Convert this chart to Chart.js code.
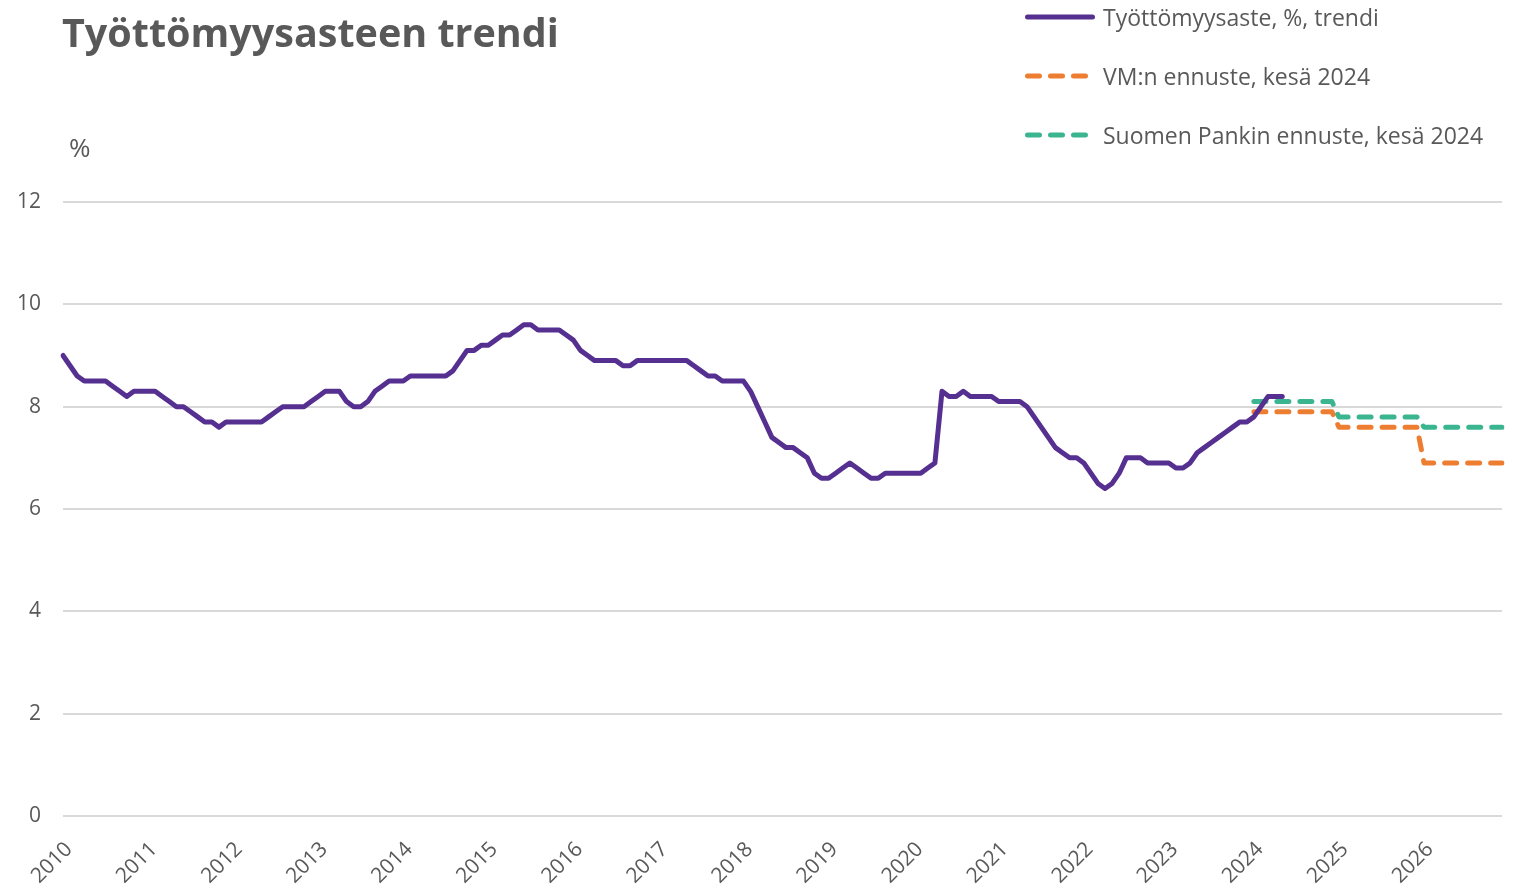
<!DOCTYPE html>
<html>
<head>
<meta charset="utf-8">
<script src="https://cdn.jsdelivr.net/npm/chart.js@4.4.1/dist/chart.umd.min.js"></script>
<style>
  body { margin: 0; background: #fff; font-family: 'Open Sans', sans-serif; color: #595959; }
  #wrap { position: relative; width: 1516px; height: 885px; }
  #title { position: absolute; left: 62px; top: 3px; font-size: 39.5px; font-weight: 700; line-height: 58px; }
  #unit { position: absolute; left: 69px; top: 131px; font-size: 26px; line-height: 32px; }
  .leg { position: absolute; left: 1022px; height: 30px; line-height: 30px; font-size: 23px; white-space: nowrap; }
  .leg svg { vertical-align: top; }
  canvas { position: absolute; left: 0; top: 0; }
</style>
</head>
<body>
<div id="wrap">
  <canvas id="trendChart" width="1516" height="885"></canvas>
  <div id="title">Työttömyysasteen trendi</div>
  <div id="unit">%</div>
  <div class="leg" style="top:2px"><svg width="81" height="30"><line x1="5.5" y1="15" x2="70.5" y2="15" stroke="#553090" stroke-width="5" stroke-linecap="round"/></svg><span>Työttömyysaste, %, trendi</span></div>
  <div class="leg" style="top:61px"><svg width="81" height="30"><line x1="5.5" y1="15" x2="63.5" y2="15" stroke="#ED7D31" stroke-width="5" stroke-linecap="round" stroke-dasharray="12 11"/></svg><span>VM:n ennuste, kesä 2024</span></div>
  <div class="leg" style="top:120px"><svg width="81" height="30"><line x1="5.5" y1="15" x2="63.5" y2="15" stroke="#3BB58F" stroke-width="5" stroke-linecap="round" stroke-dasharray="12 11"/></svg><span>Suomen Pankin ennuste, kesä 2024</span></div>
</div>
<script>
// Years on the axis, months in between
const years = [2010, 2011, 2012, 2013, 2014, 2015, 2016, 2017, 2018,
               2019, 2020, 2021, 2022, 2023, 2024, 2025, 2026];
const months = [];
years.forEach((y) => {
  for (let m = 1; m <= 12; m++) months.push(y + '-' + String(m).padStart(2, '0'));
});

// Unemployment rate trend, %, monthly from 2010-01
const trend = [
  9.0, 8.8, 8.6, 8.5, 8.5, 8.5, 8.5, 8.4, 8.3, 8.2, 8.3, 8.3, // 2010
  8.3, 8.3, 8.2, 8.1, 8.0, 8.0, 7.9, 7.8, 7.7, 7.7, 7.6, 7.7, // 2011
  7.7, 7.7, 7.7, 7.7, 7.7, 7.8, 7.9, 8.0, 8.0, 8.0, 8.0, 8.1, // 2012
  8.2, 8.3, 8.3, 8.3, 8.1, 8.0, 8.0, 8.1, 8.3, 8.4, 8.5, 8.5, // 2013
  8.5, 8.6, 8.6, 8.6, 8.6, 8.6, 8.6, 8.7, 8.9, 9.1, 9.1, 9.2, // 2014
  9.2, 9.3, 9.4, 9.4, 9.5, 9.6, 9.6, 9.5, 9.5, 9.5, 9.5, 9.4, // 2015
  9.3, 9.1, 9.0, 8.9, 8.9, 8.9, 8.9, 8.8, 8.8, 8.9, 8.9, 8.9, // 2016
  8.9, 8.9, 8.9, 8.9, 8.9, 8.8, 8.7, 8.6, 8.6, 8.5, 8.5, 8.5, // 2017
  8.5, 8.3, 8.0, 7.7, 7.4, 7.3, 7.2, 7.2, 7.1, 7.0, 6.7, 6.6, // 2018
  6.6, 6.7, 6.8, 6.9, 6.8, 6.7, 6.6, 6.6, 6.7, 6.7, 6.7, 6.7, // 2019
  6.7, 6.7, 6.8, 6.9, 8.3, 8.2, 8.2, 8.3, 8.2, 8.2, 8.2, 8.2, // 2020
  8.1, 8.1, 8.1, 8.1, 8.0, 7.8, 7.6, 7.4, 7.2, 7.1, 7.0, 7.0, // 2021
  6.9, 6.7, 6.5, 6.4, 6.5, 6.7, 7.0, 7.0, 7.0, 6.9, 6.9, 6.9, // 2022
  6.9, 6.8, 6.8, 6.9, 7.1, 7.2, 7.3, 7.4, 7.5, 7.6, 7.7, 7.7, // 2023
  7.8, 8.0, 8.2, 8.2, 8.2                                      // 2024
];

// Forecasts, monthly 2024-01 .. 2026-12
const vmForecast = [
  7.9, 7.9, 7.9, 7.9, 7.9, 7.9, 7.9, 7.9, 7.9, 7.9, 7.9, 7.9,
  7.6, 7.6, 7.6, 7.6, 7.6, 7.6, 7.6, 7.6, 7.6, 7.6, 7.6, 7.6,
  6.9, 6.9, 6.9, 6.9, 6.9, 6.9, 6.9, 6.9, 6.9, 6.9, 6.9, 6.9
];
const spForecast = [
  8.1, 8.1, 8.1, 8.1, 8.1, 8.1, 8.1, 8.1, 8.1, 8.1, 8.1, 8.1,
  7.8, 7.8, 7.8, 7.8, 7.8, 7.8, 7.8, 7.8, 7.8, 7.8, 7.8, 7.8,
  7.6, 7.6, 7.6, 7.6, 7.6, 7.6, 7.6, 7.6, 7.6, 7.6, 7.6, 7.6
];
const forecastStart = months.indexOf('2024-01');

const yTicks = [0, 2, 4, 6, 8, 10, 12];

function padSeries(values, start) {
  const out = new Array(months.length).fill(null);
  values.forEach((v, i) => { out[start + i] = v; });
  return out;
}

const textColor = '#595959';
const yFont = { family: "'Open Sans', sans-serif", size: 21 };
const xFont = { family: "'Open Sans', sans-serif", size: 21 };

const chartEl = document.getElementById('trendChart');

const chart = new Chart(chartEl, {
  type: 'line',
  data: {
    labels: months,
    datasets: [
      {
        label: 'Työttömyysaste, %, trendi',
        data: padSeries(trend, 0),
        borderColor: '#553090',
        borderWidth: 5,
        borderCapStyle: 'round',
        borderJoinStyle: 'round',
        order: 0,
      },
      {
        label: 'VM:n ennuste, kesä 2024',
        data: padSeries(vmForecast, forecastStart),
        borderColor: '#ED7D31',
        borderWidth: 5,
        borderDash: [12, 11],
        borderCapStyle: 'round',
        borderJoinStyle: 'round',
        order: 2,
      },
      {
        label: 'Suomen Pankin ennuste, kesä 2024',
        data: padSeries(spForecast, forecastStart),
        borderColor: '#3BB58F',
        borderWidth: 5,
        borderDash: [12, 11],
        borderCapStyle: 'round',
        borderJoinStyle: 'round',
        order: 1,
      },
    ],
  },
  options: {
    responsive: false,
    animation: false,
    spanGaps: false,
    layout: { padding: { top: 202, right: 14, left: 0, bottom: 0 } },
    elements: { point: { radius: 0 }, line: { tension: 0 } },
    plugins: {
      legend: { display: false },
      tooltip: { enabled: false },
    },
    scales: {
      x: {
        grid: { display: false },
        border: { display: false },
        ticks: {
          autoSkip: false,
          minRotation: 45,
          maxRotation: 45,
          padding: 13,
          labelOffset: 6,
          color: textColor,
          font: xFont,
          callback: (v, i) => (months[i].endsWith('-01') ? months[i].slice(0, 4) : ''),
        },
        afterFit: (scale) => {
          scale.height = 69;
          scale.paddingLeft = 0;
          scale.paddingRight = 0;
        },
      },
      y: {
        min: 0,
        max: 12,
        afterBuildTicks: (scale) => { scale.ticks = yTicks.map((v) => ({ value: v })); },
        ticks: { padding: 22, color: textColor, font: yFont },
        grid: { color: '#D9D9D9', lineWidth: 2, drawTicks: false },
        border: { display: false },
        afterFit: (scale) => { scale.width = 63; },
      },
    },
  },
});
</script>
</body>
</html>
